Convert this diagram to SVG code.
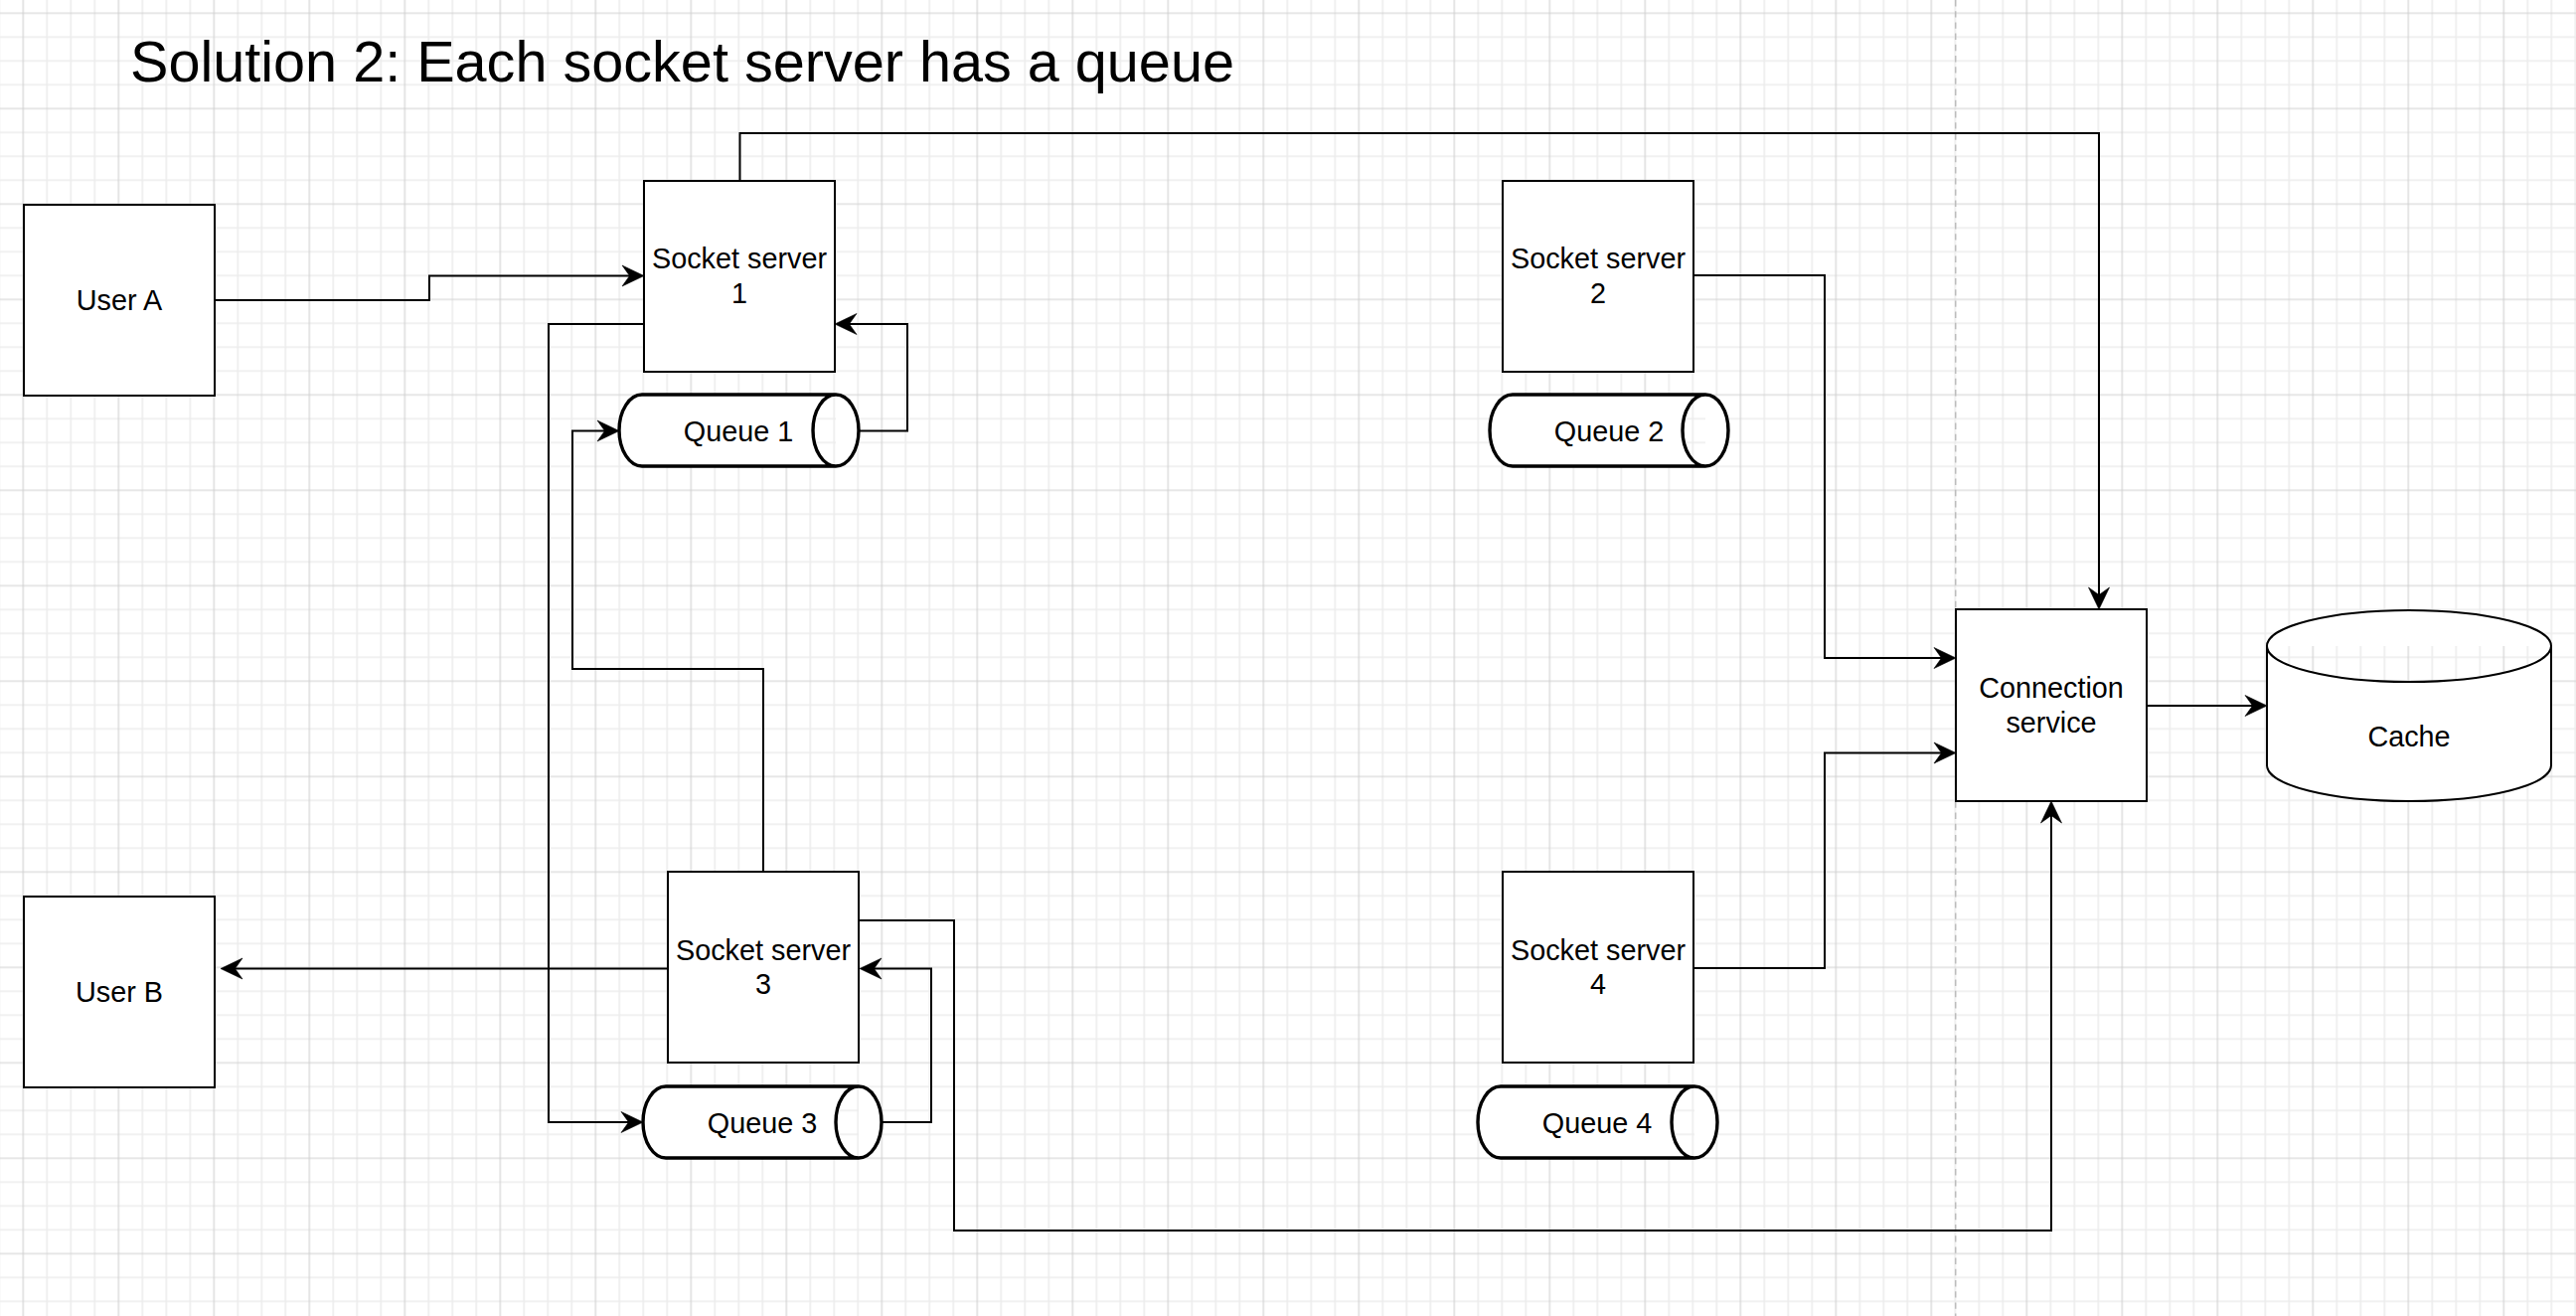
<svg xmlns="http://www.w3.org/2000/svg" width="2592" height="1324" viewBox="0 0 2592 1324">
  <style>
    .box { fill: #ffffff; stroke: #000000; stroke-width: 2; }
    .queue { fill: #ffffff; stroke: #000000; stroke-width: 3.4; stroke-linejoin: round; }
    .cyl { fill: #ffffff; stroke: #000000; stroke-width: 2; }
    .edge { fill: none; stroke: #000000; stroke-width: 2; marker-end: url(#arrow); }
    .lbl { font-family: "Liberation Sans", Arial, Helvetica, sans-serif; font-size: 28.8px; fill: #000000; text-anchor: middle; }
    .title { font-family: "Liberation Sans", Arial, Helvetica, sans-serif; font-size: 57.6px; fill: #000000; }
  </style>
  <defs>
    <pattern id="grid" patternUnits="userSpaceOnUse" x="11.3" y="1.3" width="96" height="96">
      <path d="M36 0 V96 M60 0 V96 M84 0 V96 M0 36 H96 M0 60 H96 M0 84 H96" stroke="#ededed" stroke-width="1.6" fill="none"/>
      <path d="M12 0 V96 M0 12 H96" stroke="#d0d0d0" stroke-width="1.1" fill="none"/>
    </pattern>
    <marker id="arrow" markerUnits="userSpaceOnUse" viewBox="-17 -12 24 24" refX="0" refY="0" markerWidth="24" markerHeight="24" orient="auto" overflow="visible">
      <path d="M6,0 L-16,-10.5 L-8.5,0 L-16,10.5 Z" fill="#000000" stroke="#000000" stroke-width="0.6" stroke-linejoin="miter"/>
    </marker>
  </defs>

  <rect x="0" y="0" width="2592" height="1324" fill="#ffffff"/>
  <rect x="0" y="0" width="2592" height="1324" fill="url(#grid)"/>
  <line x1="1967.7" y1="0" x2="1967.7" y2="1324" stroke="#bdbdbd" stroke-width="1.5" stroke-dasharray="6.4 4.8"/>

  <text class="title" x="131" y="81.5">Solution 2: Each socket server has a queue</text>

  <g id="connectors">
    <path class="edge" d="M216,302 H432 V277.5 H642"/>
    <path class="edge" d="M744.5,182 V134 H2112 V607"/>
    <path class="edge" d="M648,326 H552 V1129 H641"/>
    <path class="edge" d="M864,433.5 H913 V326 H846"/>
    <path class="edge" d="M768,877 V673 H576 V433.5 H617"/>
    <path class="edge" d="M672,974.5 H228"/>
    <path class="edge" d="M887,1129 H937 V974.5 H871"/>
    <path class="edge" d="M864,926 H960 V1238 H2064 V812"/>
    <path class="edge" d="M1704,277 H1836 V662 H1962"/>
    <path class="edge" d="M1704,974 H1836 V757.5 H1962"/>
    <path class="edge" d="M2160,710 H2275"/>
  </g>

  <g id="user-a">
    <rect class="box" x="24" y="206" width="192" height="192"/>
    <text class="lbl" x="120" y="312">User A</text>
  </g>
  <g id="user-b">
    <rect class="box" x="24" y="902" width="192" height="192"/>
    <text class="lbl" x="120" y="1008">User B</text>
  </g>

  <g id="socket-server-1">
    <rect class="box" x="648" y="182" width="192" height="192"/>
    <text class="lbl" x="744" y="270">Socket server</text>
    <text class="lbl" x="744" y="304.5">1</text>
  </g>
  <g id="socket-server-2">
    <rect class="box" x="1512" y="182" width="192" height="192"/>
    <text class="lbl" x="1608" y="270">Socket server</text>
    <text class="lbl" x="1608" y="304.5">2</text>
  </g>
  <g id="socket-server-3">
    <rect class="box" x="672" y="877" width="192" height="192"/>
    <text class="lbl" x="768" y="965.5">Socket server</text>
    <text class="lbl" x="768" y="1000">3</text>
  </g>
  <g id="socket-server-4">
    <rect class="box" x="1512" y="877" width="192" height="192"/>
    <text class="lbl" x="1608" y="965.5">Socket server</text>
    <text class="lbl" x="1608" y="1000">4</text>
  </g>

  <g id="queue-1">
    <path class="queue" d="M646,397 H841 A23,36 0 0 1 841,469 H646 A23,36 0 0 1 646,397 Z M841,397 A23,36 0 0 0 841,469"/>
    <text class="lbl" x="743" y="443.5">Queue 1</text>
  </g>
  <g id="queue-2">
    <path class="queue" d="M1522,397 H1716 A23,36 0 0 1 1716,469 H1522 A23,36 0 0 1 1522,397 Z M1716,397 A23,36 0 0 0 1716,469"/>
    <text class="lbl" x="1619" y="443.5">Queue 2</text>
  </g>
  <g id="queue-3">
    <path class="queue" d="M670,1093 H864 A23,36 0 0 1 864,1165 H670 A23,36 0 0 1 670,1093 Z M864,1093 A23,36 0 0 0 864,1165"/>
    <text class="lbl" x="767" y="1139.5">Queue 3</text>
  </g>
  <g id="queue-4">
    <path class="queue" d="M1510,1093 H1705 A23,36 0 0 1 1705,1165 H1510 A23,36 0 0 1 1510,1093 Z M1705,1093 A23,36 0 0 0 1705,1165"/>
    <text class="lbl" x="1607" y="1139.5">Queue 4</text>
  </g>

  <g id="connection-service">
    <rect class="box" x="1968" y="613" width="192" height="193"/>
    <text class="lbl" x="2064" y="701.5">Connection</text>
    <text class="lbl" x="2064" y="736.5">service</text>
  </g>

  <g id="cache">
    <path class="cyl" d="M2281,650 A143,36 0 0 1 2567,650 V770 A143,36 0 0 1 2281,770 Z M2281,650 A143,36 0 0 0 2567,650"/>
    <text class="lbl" x="2424" y="750.5">Cache</text>
  </g>
</svg>
